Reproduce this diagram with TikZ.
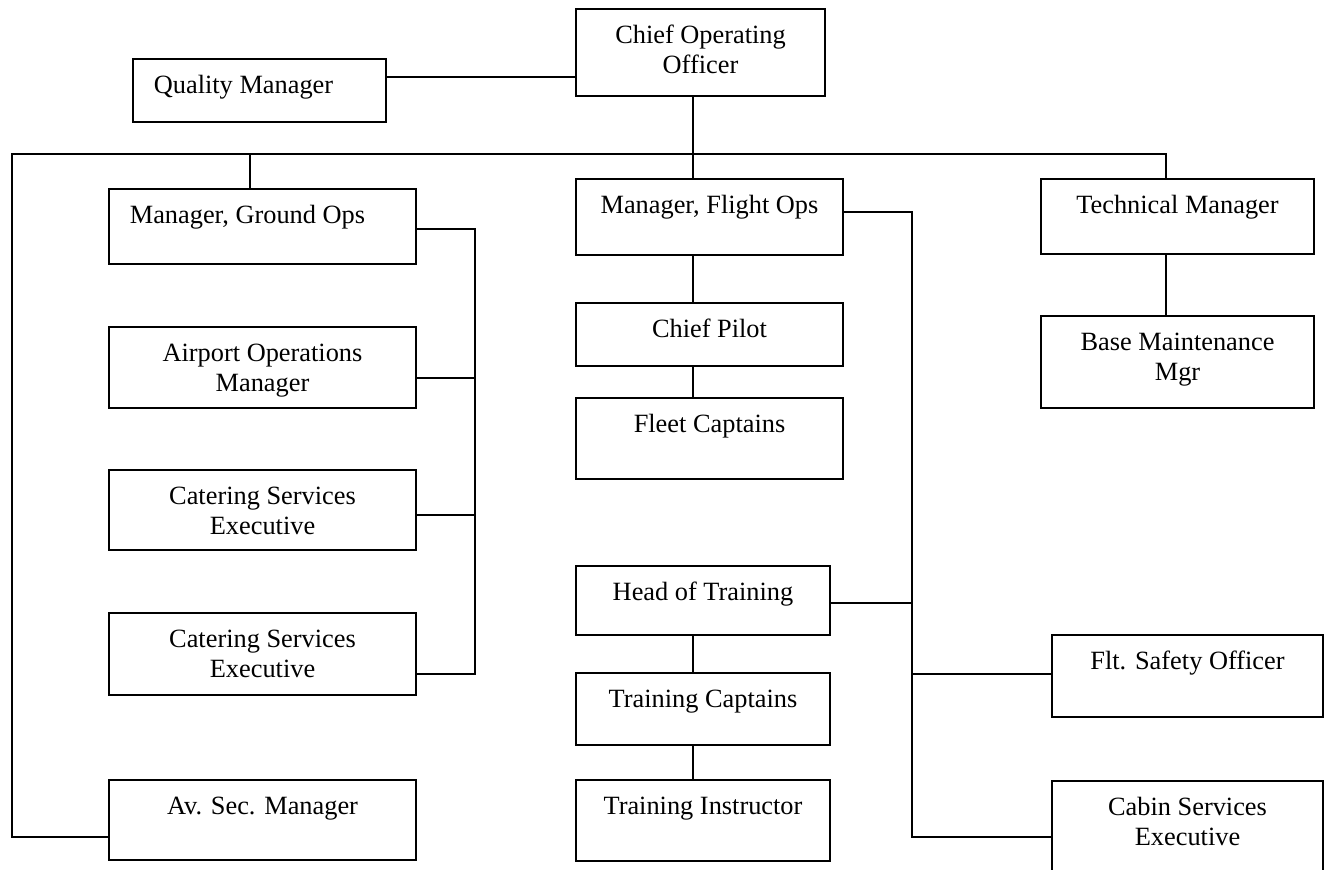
\documentclass[tikz,border=0pt]{standalone}
\usepackage{fontspec}
\setmainfont{Liberation Serif}
\usepackage{tikz}
\usetikzlibrary{fit}

\newcommand{\twoline}[2]{\begin{tabular}[t]{@{}c@{}}#1\\#2\end{tabular}}

\begin{document}
\begin{tikzpicture}[x=0.02cm, y=-0.02cm,
  box/.style={draw, line width=1.1pt, inner sep=0pt},
  link/.style={line width=0.8pt},
  txt/.style={anchor=base, inner sep=0pt, font=\fontsize{15}{17.3}\selectfont}]
\useasboundingbox (0,0) rectangle (1324,869);

%% boxes
\node[box, fit={(576,9) (825,96)}] (coo) {};
\node[box, fit={(133,59) (386,122)}] (qm) {};
\node[box, fit={(109,189) (416,264)}] (gops) {};
\node[box, fit={(109,327) (416,408)}] (apm) {};
\node[box, fit={(109,470) (416,550)}] (cat1) {};
\node[box, fit={(109,613) (416,695)}] (cat2) {};
\node[box, fit={(109,780) (416,860)}] (avsec) {};
\node[box, fit={(576,179) (843,255)}] (fops) {};
\node[box, fit={(576,303) (843,366)}] (cpil) {};
\node[box, fit={(576,398) (843,479)}] (fleet) {};
\node[box, fit={(576,566) (830,635)}] (hot) {};
\node[box, fit={(576,673) (830,745)}] (tcap) {};
\node[box, fit={(576,780) (830,861)}] (tins) {};
\node[box, fit={(1041,179) (1314,254)}] (tech) {};
\node[box, fit={(1041,316) (1314,408)}] (bmm) {};
\node[box, fit={(1052,635) (1323,717)}] (fso) {};
\node[box, fit={(1052,781) (1323,900)}] (cse) {};

%% texts
\node[txt] (coo-t) at ([yshift=-0.7cm]coo.north) {\twoline{Chief Operating}{Officer}};
\node[txt] (qm-t) at ([xshift=-0.32cm, yshift=-0.7cm]qm.north) {Quality Manager};
\node[txt] (gops-t) at ([xshift=-0.3cm, yshift=-0.7cm]gops.north) {Manager, Ground Ops};
\node[txt] (apm-t) at ([yshift=-0.7cm]apm.north) {\twoline{Airport Operations}{Manager}};
\node[txt] (cat1-t) at ([yshift=-0.7cm]cat1.north) {\twoline{Catering Services}{Executive}};
\node[txt] (cat2-t) at ([yshift=-0.7cm]cat2.north) {\twoline{Catering Services}{Executive}};
\node[txt] (avsec-t) at ([yshift=-0.7cm]avsec.north) {Av. Sec. Manager};
\node[txt] (fops-t) at ([yshift=-0.7cm]fops.north) {Manager, Flight Ops};
\node[txt] (cpil-t) at ([yshift=-0.7cm]cpil.north) {Chief Pilot};
\node[txt] (fleet-t) at ([yshift=-0.7cm]fleet.north) {Fleet Captains};
\node[txt] (hot-t) at ([yshift=-0.7cm]hot.north) {Head of Training};
\node[txt] (tcap-t) at ([yshift=-0.7cm]tcap.north) {Training Captains};
\node[txt] (tins-t) at ([yshift=-0.7cm]tins.north) {Training Instructor};
\node[txt] (tech-t) at ([yshift=-0.7cm]tech.north) {Technical Manager};
\node[txt] (bmm-t) at ([yshift=-0.7cm]bmm.north) {\twoline{Base Maintenance}{Mgr}};
\node[txt] (fso-t) at ([yshift=-0.7cm]fso.north) {Flt. Safety Officer};
\node[txt] (cse-t) at ([yshift=-0.7cm]cse.north) {\twoline{Cabin Services}{Executive}};

%% junctions
\coordinate (spine) at (693,154);
\coordinate (bus-l) at (12,154);
\coordinate (bus-r) at (1166,154);
\coordinate (gdrop) at (250,154);
\coordinate (gbr) at (475,229);
\coordinate (fbr) at (912,212);

%% top and main bus
\draw[link] (qm.east |- 0,77) -- (coo.west |- 0,77);
\draw[link] (coo.south -| spine) -- (fops.north -| spine);
\draw[link] (avsec.west |- 0,837) -| (bus-l) -- (bus-r) -- (tech.north -| bus-r);
\draw[link] (gdrop) -- (gops.north -| gdrop);

%% ground ops
\draw[link] (gops.east |- gbr) -- (gbr) |- (cat2.east |- 0,674);
\draw[link] (apm.east |- 0,378) -- (gbr |- 0,378);
\draw[link] (cat1.east |- 0,515) -- (gbr |- 0,515);

%% flight ops
\draw[link] (fops.east |- fbr) -- (fbr) |- (cse.west |- 0,837);
\draw[link] (hot.east |- 0,603) -- (fbr |- 0,603);
\draw[link] (fbr |- 0,674) -- (fso.west |- 0,674);

%% vertical chains
\foreach \a/\b in {fops/cpil, cpil/fleet, hot/tcap, tcap/tins}
  \draw[link] (\a.south -| spine) -- (\b.north -| spine);
\draw[link] (tech.south -| bus-r) -- (bmm.north -| bus-r);
\end{tikzpicture}
\end{document}
